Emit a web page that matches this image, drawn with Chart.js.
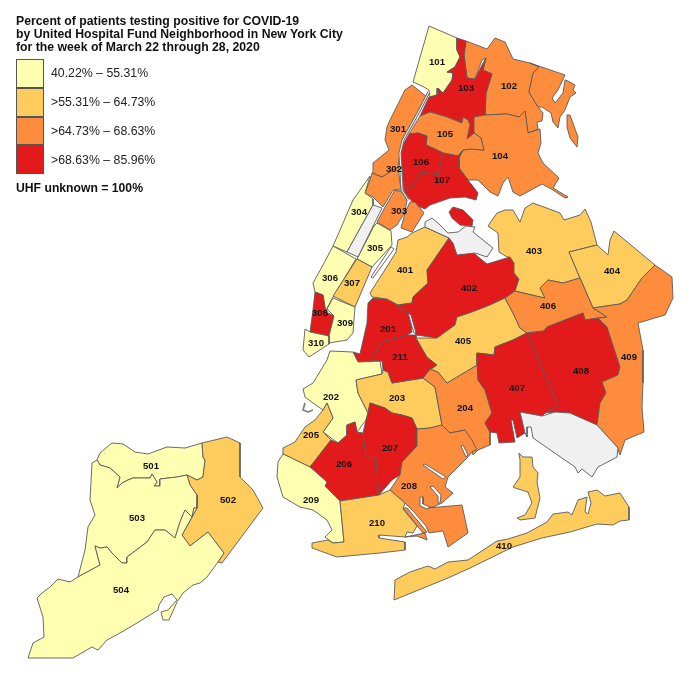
<!DOCTYPE html>
<html>
<head>
<meta charset="utf-8">
<script src="https://cdn.jsdelivr.net/npm/chart.js@4"></script>
<style>
  body { margin: 0; background: #fff; font-family: "Liberation Sans", Arial, sans-serif; color: #111; }
  #wrap { position: relative; width: 700px; height: 687px; }
  #title { position: absolute; left: 16px; top: 15px; font-weight: bold; font-size: 12.25px; line-height: 13.2px; white-space: nowrap; }
  #legend { position: absolute; left: 16px; top: 59px; }
  .row { height: 28.8px; display: flex; align-items: center; font-size: 12.3px; white-space: nowrap; color: #222; }
  .swatch { width: 28px; height: 28.8px; box-sizing: border-box; border: 1px solid #555; margin-right: 7px; }
  #unknown { position: absolute; left: 16px; top: 181px; font-weight: bold; font-size: 12.2px; white-space: nowrap; }
</style>
</head>
<body>
<div id="wrap">
  <canvas id="chart" width="700" height="687"></canvas>
  <div id="title">Percent of patients testing positive for COVID-19<br>by United Hospital Fund Neighborhood in New York City<br>for the week of March 22 through 28, 2020</div>
  <div id="legend"></div>
  <div id="unknown">UHF unknown = 100%</div>
</div>
<script>
const binLabels = ["40.22% \u2013 55.31%", ">55.31% \u2013 64.73%", ">64.73% \u2013 68.63%", ">68.63% \u2013 85.96%"];
const binColors = ["#FFFFB2", "#FECC5C", "#FD8D3C", "#E31A1C"];
const noDataColor = "#F0F0F0";
const outlineColor = "#5A5A5A";

// neighborhood outlines (x, y in map units)
const uhf101 = [[429,26],[457,38],[457,50],[460,57],[455,67],[447,72],[453,73],[452,80],[443,93],[438,88],[437,95],[430,97],[429,90],[422,86],[413,82]];
const uhf102 = [[466,41],[487,49],[495,38],[505,42],[513,59],[530,63],[539,67],[533,73],[529,92],[538,107],[543,113],[542,121],[537,122],[538,129],[528,133],[525,111],[519,117],[507,114],[485,115],[486,93],[492,74],[483,70],[486,58],[482,60],[475,79],[467,78],[464,55]];
const uhf102b = [[530,63],[565,75],[558,90],[552,98],[555,103],[563,93],[565,80],[568,81],[575,85],[573,90],[576,93],[570,97],[565,110],[560,117],[558,128],[553,122],[551,113],[542,107],[538,107],[529,92],[533,73],[539,67]];
const uhf102c = [[567,115],[570,115],[578,137],[577,147],[570,138],[567,127]];
const uhf103 = [[457,38],[466,41],[464,55],[467,78],[475,79],[482,65],[486,58],[483,70],[492,74],[486,93],[485,115],[474,117],[474,133],[467,139],[470,125],[468,120],[463,117],[462,123],[447,117],[430,112],[420,116],[429,97],[430,97],[437,95],[438,88],[443,93],[452,80],[453,73],[447,72],[455,67],[460,57],[457,50]];
const uhf104 = [[474,117],[485,115],[507,114],[519,117],[525,111],[528,133],[540,129],[541,143],[538,153],[543,163],[559,178],[553,188],[568,197],[565,198],[553,190],[542,184],[520,196],[513,192],[508,177],[503,183],[498,196],[490,192],[478,180],[468,180],[459,168],[459,158],[463,150],[470,149],[484,150],[481,138],[474,133]];
const uhf105 = [[430,112],[447,117],[462,123],[463,117],[468,120],[470,125],[467,139],[474,133],[481,138],[484,150],[470,149],[463,150],[458,156],[443,153],[435,149],[426,145],[427,136],[418,133],[409,134],[420,116]];
const uhf106 = [[409,134],[418,133],[427,136],[426,145],[435,149],[443,153],[438,175],[421,172],[418,180],[404,192],[403,180],[401,153],[404,143]];
const uhf107 = [[443,153],[458,156],[463,150],[459,158],[459,168],[468,180],[478,193],[476,200],[465,197],[450,198],[430,205],[425,209],[415,205],[404,192],[418,180],[421,172],[438,175]];
const uhf201 = [[373,298],[387,299],[398,305],[400,308],[410,315],[412,332],[407,335],[382,342],[373,357],[375,361],[358,362],[353,352],[360,354],[367,323],[368,303]];
const uhf202 = [[303,389],[313,383],[327,360],[330,351],[353,352],[358,362],[380,361],[382,374],[356,380],[358,393],[368,413],[366,420],[357,432],[355,422],[347,425],[347,435],[338,443],[323,432],[333,418],[327,403],[323,410],[313,403],[305,397]];
const uhf203 = [[356,380],[382,374],[383,370],[388,372],[392,383],[423,378],[435,387],[442,425],[430,428],[417,429],[412,418],[402,415],[392,413],[385,408],[370,403],[368,413],[358,393]];
const uhf204 = [[430,369],[438,372],[447,383],[477,365],[478,380],[485,390],[492,413],[485,423],[490,432],[490,445],[478,450],[473,455],[470,440],[465,430],[450,433],[442,425],[435,387],[423,378]];
const uhf205 = [[323,410],[327,403],[333,418],[323,432],[331,440],[310,467],[283,454],[283,448],[295,442],[305,427],[315,420]];
const uhf206 = [[331,440],[338,443],[347,435],[347,425],[355,422],[357,432],[363,433],[366,457],[376,458],[379,495],[340,501],[325,486],[327,482],[310,467]];
const uhf207 = [[370,403],[385,408],[392,413],[402,415],[412,418],[417,429],[417,446],[402,462],[400,475],[392,480],[379,495],[376,458],[366,457],[363,433],[366,420],[368,413]];
const uhf208 = [[417,429],[430,428],[442,425],[450,433],[465,430],[472,440],[477,450],[473,451],[467,458],[448,477],[445,487],[453,493],[442,503],[433,507],[427,508],[462,505],[468,533],[448,547],[443,531],[429,533],[426,526],[413,511],[405,503],[390,490],[400,475],[402,462],[417,446]];
const uhf208b = [[403,508],[407,508],[427,532],[423,533]];
const uhf208c = [[405,537],[425,533],[427,540],[417,536]];
const uhf209 = [[283,454],[310,467],[327,482],[325,486],[340,501],[344,542],[333,543],[325,537],[332,530],[327,520],[313,510],[300,507],[283,497],[277,477],[278,462]];
const uhf210 = [[340,501],[379,495],[390,490],[405,503],[403,509],[417,526],[413,533],[407,532],[405,537],[379,535],[379,538],[405,542],[405,550],[380,553],[337,557],[312,548],[312,543],[328,540],[333,543],[344,542]];
const uhf211 = [[382,342],[407,335],[416,335],[416,338],[427,357],[437,365],[433,368],[430,369],[423,378],[392,383],[388,372],[383,370],[382,361],[375,361],[373,357]];
const uhf301 = [[405,90],[412,85],[427,97],[418,113],[403,140],[400,153],[398,167],[382,177],[372,173],[373,163],[389,150],[385,140],[387,127],[390,120]];
const uhf302 = [[372,173],[382,177],[398,167],[401,190],[393,190],[383,207],[373,197],[365,193],[370,180]];
const uhf303 = [[395,190],[402,192],[407,200],[405,212],[397,225],[390,230],[377,222],[385,207]];
const uhf303b = [[410,202],[415,202],[424,213],[412,232],[401,228],[405,213]];
const uhf304 = [[370,176],[365,193],[373,199],[373,205],[347,252],[333,246],[340,230],[353,200]];
const uhf305 = [[377,223],[391,231],[392,245],[372,267],[357,259],[374,226]];
const uhf306 = [[333,246],[356,259],[333,297],[325,312],[323,295],[315,292],[313,283],[323,265]];
const uhf307 = [[357,259],[372,267],[355,307],[333,296]];
const uhf308 = [[315,292],[323,295],[326,312],[334,316],[329,336],[310,332],[313,310]];
const uhf309 = [[333,298],[355,307],[353,333],[347,340],[329,343],[329,336],[334,316],[327,309]];
const uhf310 = [[305,329],[310,332],[329,336],[329,344],[309,357],[303,350]];
const uhf401 = [[425,227],[449,238],[427,270],[428,283],[413,297],[412,303],[398,305],[387,299],[372,297],[370,293],[388,265],[396,252],[398,240],[407,237],[412,233]];
const uhf402 = [[449,238],[453,243],[457,255],[470,250],[487,264],[510,257],[514,263],[514,273],[519,279],[515,291],[505,298],[490,305],[472,312],[457,317],[455,325],[437,338],[416,335],[410,315],[400,308],[398,305],[412,303],[413,297],[428,283],[427,270]];
const uhf402b = [[453,207],[463,210],[473,220],[472,226],[460,225],[452,218],[449,212]];
const uhf403 = [[488,226],[497,213],[505,210],[513,210],[520,222],[525,208],[533,203],[560,213],[564,220],[580,215],[585,209],[591,222],[597,245],[569,252],[580,278],[563,283],[548,280],[540,288],[545,298],[540,297],[515,291],[519,279],[514,273],[514,263],[510,257],[507,257],[499,252],[498,233]];
const uhf404 = [[569,252],[597,245],[608,255],[610,240],[614,231],[655,265],[642,278],[627,300],[620,304],[593,308],[580,278]];
const uhf405 = [[416,338],[437,338],[455,325],[457,317],[472,312],[490,305],[505,298],[513,313],[520,328],[527,333],[513,340],[495,347],[494,355],[477,353],[477,365],[447,383],[438,372],[430,369],[433,368],[437,365],[427,357]];
const uhf406 = [[505,298],[515,291],[540,297],[545,298],[540,288],[548,280],[563,283],[580,278],[593,308],[607,317],[598,318],[585,320],[583,313],[547,327],[544,331],[527,333],[520,328],[513,313]];
const uhf407 = [[527,333],[513,340],[495,347],[494,355],[477,353],[478,380],[485,390],[492,413],[485,423],[490,432],[497,433],[499,443],[515,442],[511,420],[513,420],[517,438],[525,433],[520,412],[542,416],[545,413],[556,407],[556,400]];
const uhf408 = [[527,333],[544,331],[547,327],[583,313],[585,320],[598,318],[607,327],[620,367],[618,375],[602,382],[606,393],[600,403],[597,425],[570,413],[555,412],[545,413],[556,407],[556,400]];
const uhf409 = [[593,308],[620,304],[627,300],[642,278],[655,265],[672,277],[673,298],[665,315],[638,323],[643,350],[643,383],[642,407],[644,432],[625,440],[620,455],[617,447],[608,437],[597,425],[600,403],[606,393],[602,382],[618,375],[620,367],[607,327],[598,318],[607,317]];
const uhf410 = [[394,600],[395,580],[410,572],[428,566],[435,569],[448,562],[468,560],[497,541],[508,539],[527,533],[547,522],[553,514],[568,512],[572,515],[578,500],[587,497],[585,512],[588,514],[591,503],[588,492],[597,490],[605,496],[620,493],[629,507],[629,520],[620,521],[613,525],[597,524],[570,532],[542,538],[513,547],[470,568],[448,578]];
const uhf410b = [[519,453],[523,457],[532,457],[533,467],[538,473],[537,482],[540,498],[535,518],[520,520],[517,518],[525,515],[532,503],[528,492],[515,488],[513,487],[520,477],[520,460]];
const uhf501 = [[97,460],[100,453],[112,443],[123,444],[135,452],[148,454],[167,447],[185,448],[202,443],[203,457],[205,460],[203,477],[197,480],[187,475],[177,477],[160,479],[160,486],[154,486],[157,482],[152,474],[150,478],[133,478],[128,480],[122,483],[117,488],[120,477],[110,468],[100,465]];
const uhf502 = [[202,443],[227,437],[240,443],[240,477],[253,490],[263,508],[222,563],[218,562],[224,553],[217,544],[208,532],[190,546],[182,535],[197,508],[197,495],[190,485],[187,475],[197,480],[203,477],[205,460],[203,457]];
const uhf503 = [[97,460],[100,465],[110,468],[120,477],[117,488],[122,483],[128,480],[133,478],[150,478],[152,474],[157,482],[154,486],[160,486],[160,479],[177,477],[187,475],[190,485],[197,495],[197,508],[194,508],[192,517],[185,510],[180,522],[175,538],[165,530],[155,530],[147,542],[127,557],[127,563],[122,563],[112,553],[107,547],[100,548],[95,546],[100,565],[78,577],[85,550],[88,527],[95,515],[90,500],[92,463]];
const uhf504 = [[78,577],[100,565],[95,546],[100,548],[107,547],[112,553],[122,563],[127,563],[127,557],[147,542],[155,530],[165,530],[175,538],[180,522],[185,510],[192,517],[194,508],[197,508],[182,535],[190,546],[208,532],[217,544],[224,553],[218,562],[207,577],[200,583],[193,585],[183,593],[177,602],[169,620],[163,620],[161,612],[168,610],[177,600],[172,594],[164,597],[159,605],[158,610],[137,623],[120,633],[107,640],[98,650],[92,647],[73,658],[28,658],[33,643],[44,637],[43,617],[37,598],[42,593],[50,587],[58,579],[70,582]];

// no data areas
const centralPark = [[373,205],[382,208],[358,257],[347,252]];
const laGuardia = [[425,222],[432,218],[438,223],[448,233],[458,232],[466,226],[475,227],[473,232],[493,248],[487,257],[475,253],[457,255],[453,243],[449,238],[425,227]];
const jfk = [[520,412],[542,416],[555,412],[570,413],[597,425],[608,437],[618,448],[617,457],[598,467],[592,477],[582,469],[578,473],[575,467],[533,438],[531,427],[527,427],[527,437],[525,433]];

// water cut into the land
const rooseveltIsland = [[391,247],[394,249],[373,278],[371,277]];
const newtownCreek = [[408,313],[411,315],[416,333],[414,333]];
const inletA = [[423,465],[425,464],[446,477],[443,479]];
const inletB = [[461,446],[463,445],[468,455],[466,457]];
const inletC = [[430,487],[433,486],[441,495],[440,503],[438,503],[438,496]];
const inletD = [[420,497],[423,497],[423,504],[430,507],[427,509],[420,506]];

// river and harbour lines
const harlemRiver = [[429,92],[418,113],[403,140],[400,153],[402,190],[408,200]];
const harbourHook = [[305,403],[303,410],[308,412],[313,410]];

const regionCodes = ["101","102","102","102","103","104","105","106","107","201","202","203","204","205","206","207","208","208","208","209","210","211","301","302","303","303","304","305","306","307","308","309","310","401","402","402","403","404","405","406","407","408","409","410","410","501","502","503","504"];
const regionBins = [0,2,2,2,3,2,2,3,3,3,0,1,2,1,3,3,2,2,2,0,1,3,2,2,2,2,0,0,0,1,3,0,0,1,3,3,1,1,1,2,3,3,2,1,1,0,1,0,0];
const regionShapes = [uhf101,uhf102,uhf102b,uhf102c,uhf103,uhf104,uhf105,uhf106,uhf107,uhf201,uhf202,uhf203,uhf204,uhf205,uhf206,uhf207,uhf208,uhf208b,uhf208c,uhf209,uhf210,uhf211,uhf301,uhf302,uhf303,uhf303b,uhf304,uhf305,uhf306,uhf307,uhf308,uhf309,uhf310,uhf401,uhf402,uhf402b,uhf403,uhf404,uhf405,uhf406,uhf407,uhf408,uhf409,uhf410,uhf410b,uhf501,uhf502,uhf503,uhf504];

const labelCodes = ["101","102","103","104","105","106","107","201","202","203","204","205","206","207","208","209","210","211","301","302","303","304","305","306","307","308","309","310","401","402","403","404","405","406","407","408","409","410","501","502","503","504"];
const labelX = [437,509,466,500,445,421,442,388,331,397,465,311,344,390,409,311,377,400,398,394,399,359,375,330,352,320,345,316,405,469,534,612,463,548,517,581,629,504,151,228,137,121];
const labelY = [62,86,88,156,134,162,180,329,397,398,408,435,464,448,486,500,523,357,129,169,211,212,248,278,283,313,323,343,270,288,251,271,341,306,388,371,357,546,466,500,518,590];

function toPoints(shape, closed) {
    const pts = shape.map(p => ({ x: p[0], y: p[1] }));
    if (closed) pts.push(pts[0]);
    return pts;
}

function areaDataset(label, shape, color) {
    return {
        label: label,
        data: toPoints(shape, true),
        showLine: true,
        fill: "shape",
        backgroundColor: color,
        borderColor: outlineColor,
        borderWidth: 0.9,
        borderJoinStyle: "round",
        pointRadius: 0,
        tension: 0
    };
}

function lineDataset(label, shape, color, width) {
    return { label: label, data: toPoints(shape, false), showLine: true, fill: false, borderColor: color, borderWidth: width, borderJoinStyle: "round", pointRadius: 0 };
}

const datasets = [];
regionShapes.forEach((shape, i) => {
    datasets.push(areaDataset("UHF " + regionCodes[i], shape, binColors[regionBins[i]]));
});
datasets.push(areaDataset("Central Park", centralPark, noDataColor));
datasets.push(areaDataset("LaGuardia", laGuardia, noDataColor));
datasets.push(areaDataset("JFK", jfk, noDataColor));
[rooseveltIsland, newtownCreek, inletA, inletB, inletC, inletD].forEach((shape, i) => {
    datasets.push(areaDataset("water " + i, shape, "#FFFFFF"));
});
datasets.push(lineDataset("Harlem River", harlemRiver, "#6E6E6E", 3));
datasets.push(lineDataset("Harlem River core", harlemRiver, "#FFFFFF", 1));
datasets.push(lineDataset("Harbour", harbourHook, "#808080", 1.8));
// chart.js paints low order last, keep the list above in painting order
datasets.forEach((d, i) => { d.order = datasets.length - i; });

const codeLabels = {
    id: "codeLabels",
    afterDatasetsDraw(chart) {
        const ctx = chart.ctx;
        ctx.save();
        ctx.font = "bold 9.6px 'Liberation Sans'";
        ctx.fillStyle = "#111";
        ctx.textAlign = "center";
        ctx.textBaseline = "middle";
        labelCodes.forEach((code, i) => {
            ctx.fillText(code, chart.scales.x.getPixelForValue(labelX[i]), chart.scales.y.getPixelForValue(labelY[i]));
        });
        ctx.restore();
    }
};

new Chart(document.getElementById("chart").getContext("2d"), {
    type: "scatter",
    data: { datasets: datasets },
    options: {
        responsive: false,
        animation: false,
        clip: false,
        layout: { padding: 0 },
        plugins: { legend: { display: false }, tooltip: { enabled: false } },
        scales: {
            x: { type: "linear", min: 0, max: 700, display: false },
            y: { type: "linear", min: 0, max: 687, reverse: true, display: false }
        }
    },
    plugins: [codeLabels]
});

const legend = document.getElementById("legend");
binLabels.forEach((text, i) => {
    legend.innerHTML += `<div class="row"><div class="swatch" style="background:${binColors[i]}"></div>${text}</div>`;
});
</script>
</body>
</html>
